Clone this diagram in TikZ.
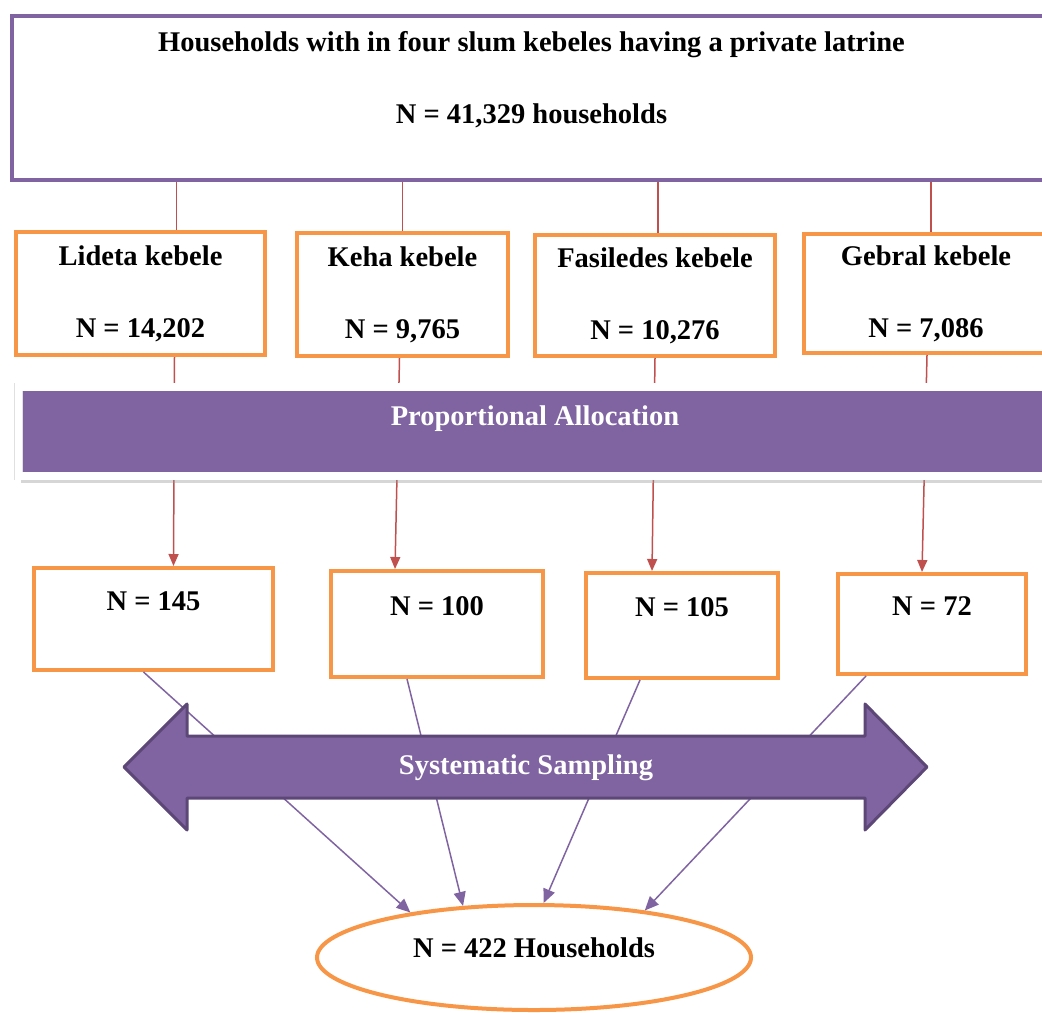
\documentclass[tikz,border=0pt]{standalone}
\usepackage{fontspec}
\setmainfont{Liberation Serif}
\usetikzlibrary{calc,arrows.meta,shapes.geometric,shadows}

\definecolor{lilac}{HTML}{8064A2}
\definecolor{lilacdark}{HTML}{5C4776}
\definecolor{tangerine}{HTML}{F79646}
\definecolor{brick}{HTML}{C0504D}

\tikzset{
  txt/.style={font=\fontsize{14.25}{36}\selectfont\bfseries, align=center},
  kbox/.style={txt, draw=tangerine, line width=2pt, fill=white, inner sep=0pt},
  redline/.style={brick, line width=0.75pt},
  redarrow/.style={redline, -{Triangle[length=6pt,width=5pt]}},
  purparrow/.style={lilac, line width=0.75pt, -{Triangle[length=7pt,width=6pt]}},
}

\begin{document}
\begin{tikzpicture}[x=0.5pt,y=-0.5pt]
  \useasboundingbox (0,0) rectangle (1042,1012);
  \clip (0,0) rectangle (1042,1012);

  % whole population
  \node[draw=lilac, line width=2pt, minimum width=519.5pt, minimum height=82pt,
        label={[txt,yshift=9pt]center:{Households with in four slum kebeles having a private latrine\\N = 41,329 households}}] (top) at (531.5,98) {};

  % kebeles
  \node[kbox, minimum width=124.5pt, minimum height=61.5pt] (lid) at (140.5,293.5) {Lideta kebele\\N = 14,202};
  \node[kbox, minimum width=105.5pt, minimum height=61.5pt] (keh) at (402.5,294.5) {Keha kebele\\N = 9,765};
  \node[kbox, minimum width=120pt, minimum height=60.5pt] (fas) at (655,295.5) {Fasiledes kebele\\N = 10,276};
  \node[kbox, minimum width=122pt, minimum height=59.5pt] (geb) at (926,293.5) {Gebral kebele\\N = 7,086};

  % sample per kebele
  \node[kbox, minimum width=119.5pt, minimum height=51pt, label={[txt,yshift=9pt]center:{N = 145}}] (n1) at (153.5,619) {};
  \node[kbox, minimum width=106pt, minimum height=53pt, label={[txt,yshift=9pt]center:{N = 100}}] (n2) at (437,624) {};
  \node[kbox, minimum width=96pt, minimum height=52.5pt, label={[txt,yshift=9pt]center:{N = 105}}] (n3) at (682,625.5) {};
  \node[kbox, minimum width=94pt, minimum height=50pt, label={[txt,yshift=9pt]center:{N = 72}}] (n4) at (932,624) {};

  % total sample
  \node[ellipse, draw=tangerine, line width=2pt, inner sep=0pt, minimum width=217pt, minimum height=52.5pt,
        label={[txt,yshift=4.75pt]center:{N = 422 Households}}] (sum) at (534,957.5) {};

  % top box to kebeles
  \coordinate (c1) at ($(lid.north)+(36,0)$);
  \coordinate (c2) at (keh.north);
  \coordinate (c3) at ($(fas.north)+(3,0)$);
  \coordinate (c4) at ($(geb.north)+(5,0)$);
  \draw[redline] (top.south -| c1) -- (c1);
  \draw[redline] (top.south -| c2) -- (c2);
  \draw[redline] (top.south -| c3) -- (c3);
  \draw[redline] (top.south -| c4) -- (c4);

  % kebeles to samples, under the bar
  \draw[redarrow] ($(lid.south)+(34,0)$) -- ($(n1.north)+(20,0)$);
  \draw[redarrow] ($(keh.south)+(-3,0)$) -- ($(n2.north)+(-42,0)$);
  \draw[redarrow] (fas.south) -- ($(n3.north)+(-30,0)$);
  \draw[redarrow] ($(geb.south)+(1,0)$) -- ($(n4.north)+(-10,0)$);

  \node[fill=lilac, draw=black!12, line width=0.3pt, double=white, double distance=3.6pt,
        minimum width=516.5pt, minimum height=44.5pt,
        drop shadow={shadow xshift=1pt, shadow yshift=-3.5pt, fill=black!40, opacity=0.4},
        label={[txt,text=white,yshift=6.5pt]center:{Proportional Allocation}}] (alloc) at (535,431.5) {};

  % samples to total
  \draw[purparrow] ($(n1.south)+(-10,0)$) -- (sum.160);
  \draw[purparrow] ($(n2.south)+(-30,0)$) -- (sum.144);
  \draw[purparrow] ($(n3.south)+(-42,0)$) -- (sum.80);
  \draw[purparrow] ($(n4.south)+(-66,0)$) -- (sum.23);

  \filldraw[fill=lilac, draw=lilacdark, line width=1.5pt, line join=round]
    (124,767) -- (187,704) -- (187,736) -- (865,736) -- (865,704) -- (927,767)
    -- (865,830) -- (865,798) -- (187,798) -- (187,830) -- cycle;
  \node[txt, text=white] (samp) at (526,768) {Systematic Sampling};
\end{tikzpicture}
\end{document}
